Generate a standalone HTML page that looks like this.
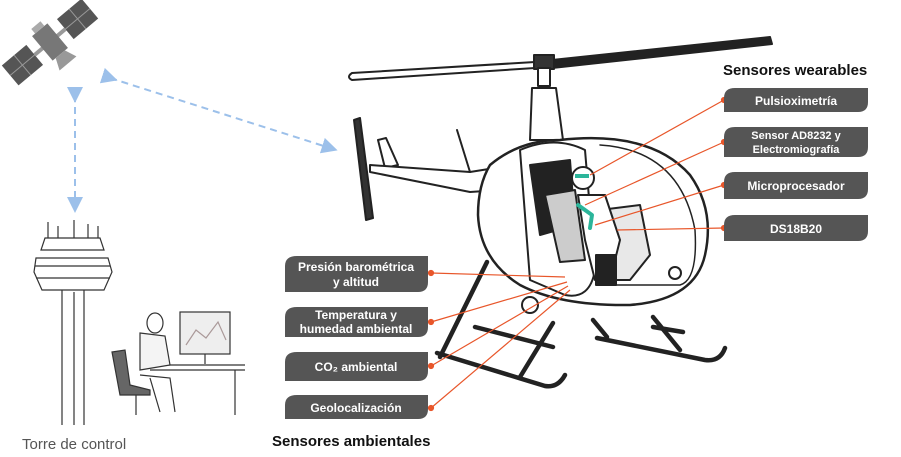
<!DOCTYPE html>
<html><head><meta charset="utf-8"><style>
body{margin:0;background:#fff;}
svg{display:block;}
text{font-family:"Liberation Sans",sans-serif;}
</style></head><body>
<svg width="901" height="457" viewBox="0 0 901 457" xmlns="http://www.w3.org/2000/svg">
<defs>
<marker id="ab" markerWidth="8" markerHeight="8" refX="4" refY="4" orient="auto"><path d="M0,0 L8,4 L0,8 Z" fill="#9cc0ea"/></marker>
</defs>
<!-- satellite -->
<g transform="translate(50,42) rotate(-40)">
<rect x="-52" y="-13" width="32" height="26" fill="#555"/>
<rect x="20" y="-13" width="32" height="26" fill="#555"/>
<line x1="-36" y1="-13" x2="-36" y2="13" stroke="#999"/><line x1="36" y1="-13" x2="36" y2="13" stroke="#999"/>
<line x1="-52" y1="0" x2="-20" y2="0" stroke="#999"/><line x1="20" y1="0" x2="52" y2="0" stroke="#999"/>
<rect x="-20" y="-2" width="40" height="4" fill="#999"/>
<rect x="-10" y="-16" width="20" height="32" fill="#777"/>
<rect x="-6" y="-22" width="12" height="6" fill="#aaa"/>
<path d="M-6,16 L6,16 L11,28 L-11,28 Z" fill="#999"/>
</g>
<!-- dashed links -->
<line x1="110" y1="78" x2="330" y2="148" stroke="#9cc0ea" stroke-width="2" stroke-dasharray="7,5" marker-start="url(#ab)" marker-end="url(#ab)"/>
<line x1="75" y1="95" x2="75" y2="205" stroke="#9cc0ea" stroke-width="2" stroke-dasharray="7,5" marker-start="url(#ab)" marker-end="url(#ab)"/>
<!-- tower -->
<g stroke="#333" fill="none" stroke-width="1.2">
<line x1="48" y1="222" x2="48" y2="238"/><line x1="58" y1="226" x2="58" y2="238"/><line x1="74" y1="220" x2="74" y2="238"/><line x1="88" y1="224" x2="88" y2="238"/><line x1="98" y1="226" x2="98" y2="238"/>
<path d="M45,238 L100,238 L104,250 L41,250 Z"/>
<path d="M36,258 L108,258 L112,272 L104,290 L42,290 L34,272 Z"/>
<line x1="35" y1="266" x2="110" y2="266"/><line x1="36" y1="278" x2="110" y2="278"/>
<line x1="62" y1="290" x2="62" y2="425"/><line x1="84" y1="290" x2="84" y2="425"/><line x1="74" y1="292" x2="74" y2="425"/>
</g>
<!-- person desk -->
<g stroke="#333" fill="none" stroke-width="1.2">
<rect x="180" y="312" width="50" height="42" fill="#eee"/>
<path d="M186,345 L196,330 L206,338 L218,322 L226,340" stroke="#a99"/>
<line x1="205" y1="354" x2="205" y2="364"/>
<line x1="150" y1="365" x2="245" y2="365"/><line x1="150" y1="370" x2="245" y2="370"/>
<line x1="235" y1="370" x2="235" y2="415"/>
<ellipse cx="155" cy="323" rx="8" ry="10"/>
<path d="M140,333 L165,336 L170,365 L140,370 Z" fill="#f4f4f4"/>
<path d="M112,352 L125,350 L130,385 L150,390 L150,395 L120,395 Z" fill="#666"/>
<path d="M140,375 L170,378 L175,412 M150,378 L160,412"/>
<line x1="136" y1="395" x2="136" y2="415"/>
</g>
<!-- helicopter -->
<g stroke="#222" fill="none" stroke-width="2" stroke-linecap="round" stroke-linejoin="round">
<!-- rotor -->
<path d="M352,73 L535,62 L535,68 L352,80 Q346,77 352,73 Z" fill="#fff" stroke-width="2"/>
<path d="M552,60 L770,37 L772,44 L552,68 Z" fill="#222"/>
<rect x="534" y="55" width="20" height="14" fill="#333"/>
<rect x="538" y="68" width="12" height="18" fill="#fff"/>
<path d="M532,88 L556,88 L563,140 L530,140 Z" fill="#fff"/>
<!-- tail rotor -->
<path d="M354,120 L360,118 L373,218 L366,220 Z" fill="#333"/>
<!-- tail fin -->
<path d="M378,140 L386,138 L398,165 L385,168 Z" fill="#fff"/>
<!-- tail boom -->
<path d="M370,165 L470,172 L495,168 L500,190 L470,192 L370,172 Z" fill="#fff"/>
<line x1="457" y1="130" x2="470" y2="172"/>
<!-- cabin -->
<path d="M490,165 Q520,140 560,140 Q650,130 690,175 Q715,210 705,255 Q695,300 630,305 Q560,306 520,285 Q480,260 478,215 Q478,185 490,165 Z" fill="#fff" stroke-width="2.5"/>
<path d="M520,150 Q555,135 585,150 L595,270 Q590,300 565,295 L530,280 Z" fill="#fff"/>
<path d="M530,165 L570,160 L575,225 L540,235 Z" fill="#222"/>
<path d="M545,195 L575,190 L585,260 L560,262 Z" fill="#ccc"/>
<path d="M600,145 Q680,150 695,230 Q698,280 680,285 L600,285" stroke-width="1.5"/>
<path d="M600,210 L640,205 L650,255 L630,280 L600,280 Z" fill="#e8e8e8"/>
<path d="M578,195 L605,195 L620,240 L610,280 L595,280 L585,240 Z" fill="#fff"/>
<rect x="596" y="255" width="20" height="30" fill="#222"/>
<circle cx="583" cy="178" r="11" fill="#fff"/>
<rect x="575" y="174" width="14" height="4" fill="#2bb59a" stroke="none"/>
<path d="M578,205 L592,215 L590,228" stroke="#2bb59a" stroke-width="4"/>
<circle cx="675" cy="273" r="6"/>
<!-- skids -->
<g stroke-width="4.5">
<line x1="487" y1="262" x2="440" y2="357"/>
<line x1="553" y1="323" x2="520" y2="377"/>
<line x1="475" y1="327" x2="553" y2="347"/>
<path d="M437,353 L545,386 Q558,388 565,375"/>
<line x1="593" y1="320" x2="607" y2="337"/>
<line x1="653" y1="317" x2="680" y2="350"/>
<line x1="653" y1="327" x2="683" y2="332"/>
<path d="M597,338 L705,360 Q720,362 725,348"/>
</g>
<circle cx="530" cy="305" r="8" fill="#fff"/>
</g>
<!-- orange connectors -->
<g stroke="#e8562a" stroke-width="1.2" fill="#e8562a">
<line x1="724" y1="100" x2="590" y2="175"/><circle cx="724" cy="100" r="2.5"/>
<line x1="724" y1="142" x2="585" y2="205"/><circle cx="724" cy="142" r="2.5"/>
<line x1="724" y1="185" x2="595" y2="225"/><circle cx="724" cy="185" r="2.5"/>
<line x1="724" y1="228" x2="617" y2="230"/><circle cx="724" cy="228" r="2.5"/>
<line x1="431" y1="273" x2="565" y2="277"/><circle cx="431" cy="273" r="2.5"/>
<line x1="431" y1="322" x2="567" y2="282"/><circle cx="431" cy="322" r="2.5"/>
<line x1="431" y1="366" x2="568" y2="286"/><circle cx="431" cy="366" r="2.5"/>
<line x1="431" y1="408" x2="570" y2="290"/><circle cx="431" cy="408" r="2.5"/>
</g>
<!-- boxes -->
<g fill="#555">
<path d="M735,88 H868 V102 Q868,112 858,112 H724 V98 Q724,88 735,88 Z"/>
<path d="M735,127 H868 V147 Q868,157 858,157 H724 V137 Q724,127 735,127 Z"/>
<path d="M735,172 H868 V189 Q868,199 858,199 H724 V182 Q724,172 735,172 Z"/>
<path d="M735,215 H868 V231 Q868,241 858,241 H724 V225 Q724,215 735,215 Z"/>
<path d="M297,256 H428 V282 Q428,292 418,292 H285 V266 Q285,256 297,256 Z"/>
<path d="M297,307 H428 V327 Q428,337 418,337 H285 V317 Q285,307 297,307 Z"/>
<path d="M297,352 H428 V371 Q428,381 418,381 H285 V362 Q285,352 297,352 Z"/>
<path d="M297,395 H428 V409 Q428,419 418,419 H285 V405 Q285,395 297,395 Z"/>
</g>
<g fill="#fff" font-weight="bold" font-size="12" text-anchor="middle">
<text x="796" y="105">Pulsioximetría</text>
<text x="796" y="139" font-size="11">Sensor AD8232 y</text>
<text x="796" y="153" font-size="11">Electromiografía</text>
<text x="796" y="190">Microprocesador</text>
<text x="796" y="233">DS18B20</text>
<text x="356" y="271">Presión barométrica</text>
<text x="356" y="286">y altitud</text>
<text x="356" y="319">Temperatura y</text>
<text x="356" y="333">humedad ambiental</text>
<text x="356" y="371">CO₂ ambiental</text>
<text x="356" y="412">Geolocalización</text>
</g>
<text x="723" y="75" font-size="15" font-weight="bold" fill="#111">Sensores wearables</text>
<text x="272" y="446" font-size="15" font-weight="bold" fill="#111">Sensores ambientales</text>
<text x="22" y="449" font-size="15" fill="#555">Torre de control</text>
</svg>
</body></html>
